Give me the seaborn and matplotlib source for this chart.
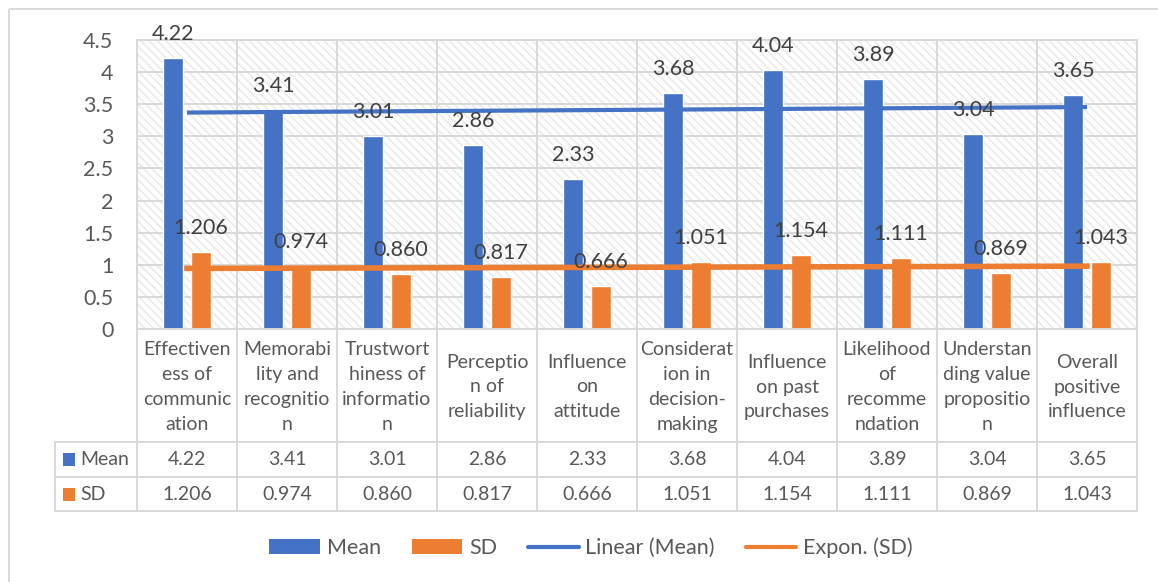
import numpy as np
import pandas as pd
import matplotlib
matplotlib.use("Agg")
import matplotlib.pyplot as plt
import seaborn as sns
from matplotlib.patches import Rectangle, Patch
from matplotlib.lines import Line2D
from matplotlib.transforms import blended_transform_factory

# ---- data -------------------------------------------------------------
categories = [
    "Effectiven\ness of\ncommunic\nation",
    "Memorabi\nlity and\nrecognitio\nn",
    "Trustwort\nhiness of\ninformatio\nn",
    "Perceptio\nn of\nreliability",
    "Influence\non\nattitude",
    "Considerat\nion in\ndecision-\nmaking",
    "Influence\non past\npurchases",
    "Likelihood\nof\nrecomme\nndation",
    "Understan\nding value\npropositio\nn",
    "Overall\npositive\ninfluence",
]
mean_values = [4.22, 3.41, 3.01, 2.86, 2.33, 3.68, 4.04, 3.89, 3.04, 3.65]
sd_values = [1.206, 0.974, 0.860, 0.817, 0.666, 1.051, 1.154, 1.111, 0.869, 1.043]
series_names = ["Mean", "SD"]
y_ticks = [0, 0.5, 1, 1.5, 2, 2.5, 3, 3.5, 4, 4.5]
y_tick_labels = ["0", "0.5", "1", "1.5", "2", "2.5", "3", "3.5", "4", "4.5"]
legend_labels = ["Mean", "SD", "Linear (Mean)", "Expon. (SD)"]

# ---- style ------------------------------------------------------------
BLUE = "#4472C4"
ORANGE = "#ED7D31"
GRID = "#D9D9D9"
TEXT = "#595959"
LABEL = "#404040"

sns.set_style("white")
plt.rcParams["font.family"] = ["Lato", "DejaVu Sans"]
plt.rcParams["hatch.linewidth"] = 1.0

W, H = 1158, 582
fig = plt.figure(figsize=(W / 100, H / 100), dpi=100)
fig.patch.set_facecolor("white")

# pixel-space overlay for chart frame and data table
ov = fig.add_axes([0, 0, 1, 1], zorder=3)
ov.set_xlim(0, W)
ov.set_ylim(H, 0)
ov.axis("off")
ov.patch.set_alpha(0)

# plot area
L, R, T, B = 137, 1137, 40, 329
ax = fig.add_axes([L / W, 1 - B / H, (R - L) / W, (B - T) / H], zorder=2)

df = pd.DataFrame({
    "category": categories * 2,
    "series": [series_names[0]] * len(categories) + [series_names[1]] * len(categories),
    "value": mean_values + sd_values,
})

# hatched background of plot area
ax.add_patch(Rectangle((0, 0), 1, 1, transform=ax.transAxes, facecolor="white",
                       edgecolor="#E8E8E8", linewidth=0, hatch="\\\\\\\\", zorder=0))

sns.barplot(data=df, x="category", y="value", hue="series", order=categories,
            hue_order=series_names, palette=[BLUE, ORANGE], saturation=1,
            width=0.56, gap=0.32, errorbar=None, legend=False, ax=ax, zorder=2)

ax.set_xlim(-0.5, len(categories) - 0.5)
ax.set_ylim(0, 4.5)
ax.set_yticks(y_ticks)
ax.set_yticklabels(y_tick_labels)
ax.set_xticks([])
ax.set_xticks(np.arange(-0.5, len(categories)), minor=True)
ax.set_xlabel("")
ax.set_ylabel("")
ax.tick_params(axis="y", length=0, pad=17, labelsize=15.5, labelcolor=TEXT)
ax.tick_params(axis="x", which="both", length=0)
ax.grid(axis="y", which="major", color=GRID, linewidth=1.4, zorder=1)
ax.grid(axis="x", which="minor", color=GRID, linewidth=1.4, zorder=1)
ax.set_axisbelow(True)
for s in ax.spines.values():
    s.set_color(GRID)
    s.set_linewidth(1.4)

# trendlines: linear on Mean, exponential on SD
xi = np.arange(1, len(categories) + 1)
xpos = np.arange(len(categories))
m_lin, b_lin = np.polyfit(xi, mean_values, 1)
ax.plot(xpos, m_lin * xi + b_lin, color=BLUE, linewidth=3, zorder=4,
        solid_capstyle="butt")
m_exp, b_exp = np.polyfit(xi, np.log(sd_values), 1)
ax.plot(xpos, np.exp(b_exp) * np.exp(m_exp * xi), color=ORANGE, linewidth=4,
        zorder=4, solid_capstyle="projecting")

# value labels above each bar
for cont, fmt in zip(ax.containers, ["{:.2f}", "{:.3f}"]):
    for bar in cont:
        h = bar.get_height()
        ax.annotate(fmt.format(h), (bar.get_x() + bar.get_width() / 2, h),
                    xytext=(0, 24), textcoords="offset pixels", ha="center",
                    va="center", fontsize=15.5, color=LABEL, zorder=6,
                    annotation_clip=False)

# ---- data table under the axis -----------------------------------------
tr = blended_transform_factory(ax.transData, ov.transData)
row_label_top, row_mean_top, row_sd_top, row_bottom = B, 442, 477, 511
key_left = -1.32
x_edges = np.arange(-0.5, len(categories))
line_kw = dict(color=GRID, linewidth=1.4, transform=tr, clip_on=False)
for xe in x_edges:
    ov.plot([xe, xe], [row_label_top, row_bottom], **line_kw)
ov.plot([key_left, key_left], [row_mean_top, row_bottom], **line_kw)
for yy in (row_mean_top, row_sd_top, row_bottom):
    ov.plot([key_left, len(categories) - 0.5], [yy, yy], **line_kw)

txt_kw = dict(transform=tr, ha="center", va="center", color=TEXT, fontsize=14)
for i, cat in enumerate(categories):
    ov.text(i, 387, cat, linespacing=1.55, multialignment="center", **txt_kw)
    ov.text(i, (row_mean_top + row_sd_top) / 2, f"{mean_values[i]:.2f}", **txt_kw)
    ov.text(i, (row_sd_top + row_bottom) / 2, f"{sd_values[i]:.3f}", **txt_kw)

for yy0, yy1, col, name in [(row_mean_top, row_sd_top, BLUE, series_names[0]),
                             (row_sd_top, row_bottom, ORANGE, series_names[1])]:
    yc = (yy0 + yy1) / 2
    ov.add_patch(Rectangle((-1.24, yc - 6.5), 0.12, 13, transform=tr,
                           facecolor=col, edgecolor="none", clip_on=False))
    ov.text(-1.07, yc, name, transform=tr, ha="left", va="center",
            color=TEXT, fontsize=14)

# chart frame
ov.add_patch(Rectangle((9, 9), W + 20, H + 20, facecolor="none",
                       edgecolor=GRID, linewidth=1.4, clip_on=False))

# ---- legend -------------------------------------------------------------
handles = [Patch(facecolor=BLUE, edgecolor="none"),
           Patch(facecolor=ORANGE, edgecolor="none"),
           Line2D([], [], color=BLUE, linewidth=3),
           Line2D([], [], color=ORANGE, linewidth=3)]
leg = fig.legend(handles, legend_labels, loc="center",
                 bbox_to_anchor=(591 / W, 1 - 548 / H), ncol=4, frameon=False,
                 fontsize=15.5, handlelength=2.35, handleheight=0.72,
                 handletextpad=0.3, columnspacing=1.45)
for t in leg.get_texts():
    t.set_color(TEXT)

fig.savefig("out.png", dpi=100)
